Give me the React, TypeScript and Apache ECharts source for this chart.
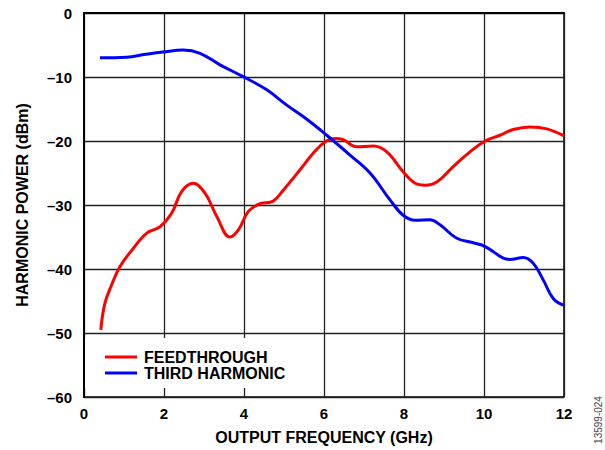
import React, { useEffect, useRef } from "react";
import * as echarts from "echarts";

const feedFreq = [0.42, 0.52, 0.69, 0.9, 1.23, 1.57, 1.9, 2.19, 2.44, 2.73, 3.03, 3.32, 3.65, 3.86, 4.11, 4.4, 4.73, 4.98, 5.4, 5.73, 6.03, 6.28, 6.48, 6.82, 7.23, 7.57, 7.98, 8.28, 8.53, 8.82, 9.23, 9.65, 10.03, 10.4, 10.73, 11.15, 11.57, 12.0];
const feedPower = [-49.5, -45.4, -42.5, -39.6, -36.8, -34.4, -33.4, -31.3, -27.9, -26.6, -28.2, -31.8, -35.0, -33.9, -31.0, -29.8, -29.4, -27.7, -24.5, -21.9, -20.1, -19.6, -19.8, -20.9, -20.8, -21.7, -24.8, -26.6, -26.9, -26.4, -24.0, -21.7, -20.0, -19.1, -18.2, -17.8, -18.1, -19.2];

const thirdFreq = [0.4, 1.07, 1.5, 1.98, 2.48, 2.9, 3.4, 3.98, 4.57, 5.07, 5.57, 6.07, 6.65, 7.15, 7.65, 7.98, 8.28, 8.65, 8.9, 9.32, 9.73, 10.03, 10.48, 10.65, 10.98, 11.23, 11.48, 11.73, 12.0];
const thirdPower = [-7.0, -6.9, -6.5, -6.1, -5.8, -6.3, -8.1, -9.95, -12.0, -14.4, -16.6, -19.1, -22.2, -25.0, -29.2, -31.6, -32.4, -32.3, -33.1, -35.2, -35.9, -36.5, -38.3, -38.5, -38.2, -39.1, -41.7, -44.6, -45.7];

const seriesNames = ["FEEDTHROUGH", "THIRD HARMONIC"];
const xTitle = "OUTPUT FREQUENCY (GHz)";
const yTitle = "HARMONIC POWER (dBm)";
const figureId = "13599-024";

const FONT = 'Arial, "Liberation Sans", Helvetica, sans-serif';

export default function App() {
  const ref = useRef<HTMLDivElement>(null);
  useEffect(() => {
    if (!ref.current) return;
    const chart = echarts.init(ref.current, null, { renderer: "svg" });
    const feedData = feedFreq.map((f, i) => [f, feedPower[i]]);
    const thirdData = thirdFreq.map((f, i) => [f, thirdPower[i]]);
    chart.setOption({
      animation: false,
      backgroundColor: "#fff",
      grid: {
        left: 84,
        top: 13,
        width: 480,
        height: 384,
        show: true,
        borderColor: "#000",
        borderWidth: 1.5,
        backgroundColor: "transparent",
      },
      legend: {
        left: 85,
        top: 338,
        orient: "vertical",
        backgroundColor: "#fff",
        padding: [11, 17, 7, 20],
        itemGap: 0,
        icon: "rect",
        itemWidth: 32,
        itemHeight: 3,
        data: seriesNames,
        textStyle: {
          fontFamily: FONT,
          fontWeight: "bold",
          fontSize: 16,
          lineHeight: 15,
          color: "#000",
          padding: [0, 0, 0, 2],
        },
      },
      xAxis: {
        type: "value",
        min: 0,
        max: 12,
        interval: 2,
        name: xTitle,
        nameLocation: "middle",
        nameGap: 32,
        nameTextStyle: { fontFamily: FONT, fontWeight: "bold", fontSize: 16, color: "#000" },
        axisLine: { show: true, lineStyle: { color: "#000", width: 2 } },
        axisTick: { show: false },
        axisLabel: { fontFamily: FONT, fontWeight: "bold", fontSize: 15, color: "#000", margin: 9 },
        splitLine: { show: true, lineStyle: { color: "#222", width: 1.3 } },
      },
      yAxis: {
        type: "value",
        min: -60,
        max: 0,
        interval: 10,
        name: yTitle,
        nameLocation: "middle",
        nameGap: 54,
        nameRotate: 90,
        nameTextStyle: { fontFamily: FONT, fontWeight: "bold", fontSize: 16, color: "#000" },
        axisLine: { show: true, lineStyle: { color: "#000", width: 2 } },
        axisTick: { show: false },
        axisLabel: {
          fontFamily: FONT,
          fontWeight: "bold",
          fontSize: 15,
          color: "#000",
          margin: 12,
          formatter: (v: number) => (v === 0 ? "0" : "\u2013" + Math.abs(v)),
          showMinLabel: true,
        },
        splitLine: { show: true, lineStyle: { color: "#222", width: 1.3 } },
      },
      graphic: [
        {
          type: "text",
          x: 598,
          y: 420,
          rotation: Math.PI / 2,
          style: {
            text: figureId,
            fontFamily: FONT,
            fontSize: 10,
            fill: "#444",
            align: "center",
            verticalAlign: "middle",
          },
        },
      ],
      series: [
        {
          name: seriesNames[0],
          type: "line",
          data: feedData,
          smooth: 0.4,
          showSymbol: false,
          symbol: "none",
          lineStyle: { color: "#ff0000", width: 3 },
          itemStyle: { color: "#ff0000" },
          z: 3,
        },
        {
          name: seriesNames[1],
          type: "line",
          data: thirdData,
          smooth: 0.4,
          showSymbol: false,
          symbol: "none",
          lineStyle: { color: "#0000ff", width: 3 },
          itemStyle: { color: "#0000ff" },
          z: 3,
        },
      ],
    });
    return () => chart.dispose();
  }, []);
  return (
    <div
      ref={ref}
      style={{ position: "fixed", left: 0, top: 0, width: 605, height: 450 }}
    />
  );
}
